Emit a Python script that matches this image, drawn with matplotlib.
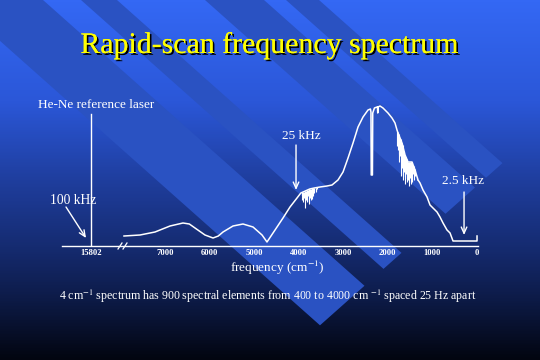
import numpy as np
import matplotlib
matplotlib.use("Agg")
import matplotlib.pyplot as plt
import matplotlib.patheffects as pe
from matplotlib.colors import LinearSegmentedColormap
from matplotlib.patches import Polygon

plt.rcParams["font.family"] = ["Liberation Serif", "DejaVu Serif"]
plt.rcParams["mathtext.fontset"] = "stix"

# spectrum trace: wavenumber (cm-1) and detector signal (arb. units)
wn = [7915, 7556, 7220, 6883, 6592, 6450, 6323, 6099, 5919, 5800, 5695, 5471,
      5247, 5022, 4820, 4709, 4529, 4350, 4193, 4036, 3950, 3850, 3750, 3650,
      3520, 3363, 3251, 3117, 3004, 2892, 2780, 2668, 2556, 2444, 2390, 2378,
      2372, 2345, 2338, 2300, 2242, 2232, 2226, 2220, 2175, 2108, 1996, 1906,
      1839, 1794, 1771, 1682, 1614, 1547, 1457, 1390, 1323, 1278, 1211, 1121,
      1054, 987, 897, 830, 762, 673, 605, 538, 0, 0]
signal = [10, 11, 14, 20, 23, 22, 18, 11, 8, 10, 14, 20,
          22, 19, 11, 4, 16, 28, 39, 48, 53, 55, 57, 58,
          59, 60, 61, 66, 74, 88, 103, 119, 129, 136, 137, 134,
          71, 71, 133, 138, 139, 139, 133, 139, 140, 138, 133, 128,
          123, 116, 113, 103, 91, 84, 84, 76, 66, 63, 56, 49,
          41, 38, 34, 29, 23, 16, 13, 5, 5, 10]

# water vapour lines cutting into the trace
h2o_stretch_wn = [3920, 3900, 3880, 3855, 3835, 3815, 3790, 3770, 3750, 3730,
                  3710, 3690, 3670, 3650, 3620, 3600, 3580]
h2o_stretch_min = [46, 44, 48, 38, 46, 44, 50, 42, 48, 46,
                   52, 47, 50, 53, 55, 54, 57]
h2o_bend_wn = [1790, 1775, 1760, 1740, 1725, 1715, 1695, 1680, 1670, 1650,
               1635, 1615, 1595, 1575, 1560, 1540, 1520, 1505, 1490, 1470,
               1455, 1435, 1420, 1400, 1380, 1360, 1340]
h2o_bend_min = [100, 96, 92, 84, 90, 96, 70, 78, 80, 66,
                74, 62, 72, 64, 70, 66, 60, 68, 62, 70,
                64, 72, 66, 74, 70, 72, 66]

HENE_POS = 8655     # 15802 cm-1 sits on the broken part of the axis
tick_pos = [HENE_POS, 7000, 6000, 5000, 4000, 3000, 2000, 1000, 0]
tick_labels = ["15802", "7000", "6000", "5000", "4000", "3000", "2000", "1000", "0"]

# slide background (pixel coords)
bg_stops = [0.0, 0.28, 0.5, 0.69, 0.83, 1.0]
bg_colors = ["#3468f4", "#2b57d8", "#1f3e9e", "#152b70", "#0d1b48", "#020510"]
stripe_edges = [(-46, 43), (81, 117), (205, 264), (286, 319)]
STRIPE_END = 686
STRIPE_COLOR = "#2a52c2"

fig = plt.figure(figsize=(5.4, 3.6), dpi=100)
bg = fig.add_axes([0, 0, 1, 1])
bg.set_xlim(0, 540)
bg.set_ylim(360, 0)
bg.axis("off")

cmap = LinearSegmentedColormap.from_list("slide", list(zip(bg_stops, bg_colors)))
bg.imshow(np.linspace(0, 1, 360).reshape(-1, 1), cmap=cmap, aspect="auto",
          extent=[0, 540, 360, 0], zorder=0)

# diagonal bands: u = x - 1.125y across, w = x + 1.125y along
for u1, u2 in stripe_edges:
    corners = []
    for u, w in [(u1, -600), (u1, STRIPE_END), (u2, STRIPE_END), (u2, -600)]:
        corners.append(((u + w) / 2, (w - u) / 2.25))
    bg.add_patch(Polygon(corners, closed=True, color=STRIPE_COLOR, lw=0, zorder=1))

txt = dict(color="white", va="baseline", ha="left")
bg.text(269.5, 53, "Rapid-scan frequency spectrum", color="#ffff00", fontsize=21.5,
        ha="center", va="baseline", zorder=5,
        path_effects=[pe.withSimplePatchShadow(offset=(1.3, -1.3), shadow_rgbFace="black",
                                               alpha=1.0), pe.Normal()])
bg.text(38, 108, "He-Ne reference laser", fontsize=9.5, **txt)
bg.text(50, 204, "100 kHz", fontsize=9.8, **txt)
bg.text(282, 139, "25 kHz", fontsize=9.5, **txt)
bg.text(442, 184, "2.5 kHz", fontsize=9.5, **txt)
bg.text(230, 272, "frequency (cm$^{-1}$)", fontsize=9.5, **txt)
bg.text(59, 300, "4 cm$^{-1}$ spectrum has 900 spectral elements from 400 to 4000 cm $^{-1}$"
        " spaced 25 Hz apart", fontsize=8.6, **txt)

# spectrum axes
ax = fig.add_axes([62 / 540, (360 - 246) / 360, 416 / 540, 151 / 360])
ax.patch.set_visible(False)
ax.set_xlim(9305, -22)
ax.set_ylim(0, 151)
for s in ["top", "left", "right"]:
    ax.spines[s].set_visible(False)
ax.spines["bottom"].set_color("white")
ax.spines["bottom"].set_linewidth(1.0)
ax.set_yticks([])
ax.set_xticks(tick_pos, tick_labels)
ax.tick_params(axis="x", length=0, colors="white", labelsize=6.2, pad=2.5)
for lab in ax.get_xticklabels():
    lab.set_fontweight("bold")

ax.plot(wn, signal, color="white", lw=1.1)
ax.vlines(h2o_stretch_wn, h2o_stretch_min,
          np.interp(h2o_stretch_wn, wn[::-1], signal[::-1]), color="white", lw=0.8)
ax.vlines(h2o_bend_wn, h2o_bend_min,
          np.interp(h2o_bend_wn, wn[::-1], signal[::-1]), color="white", lw=0.8)

# reference laser line and axis break
ax.plot([HENE_POS, HENE_POS], [0, 132], color="white", lw=1.0)
ax.plot([8049, 7960], [-3, 3], color="white", lw=0.9, clip_on=False)
ax.plot([7937, 7848], [-3, 3], color="white", lw=0.9, clip_on=False)

arrow = dict(arrowstyle="->,head_length=0.45,head_width=0.2", color="white", lw=1.0,
             shrinkA=0, shrinkB=0)
ax.annotate("", xy=(8767, 8), xytext=(9215, 39), arrowprops=arrow)
ax.annotate("", xy=(4058, 56), xytext=(4058, 101), arrowprops=arrow)
ax.annotate("", xy=(291, 11), xytext=(291, 54), arrowprops=arrow)

fig.savefig("out.png", dpi=100)
